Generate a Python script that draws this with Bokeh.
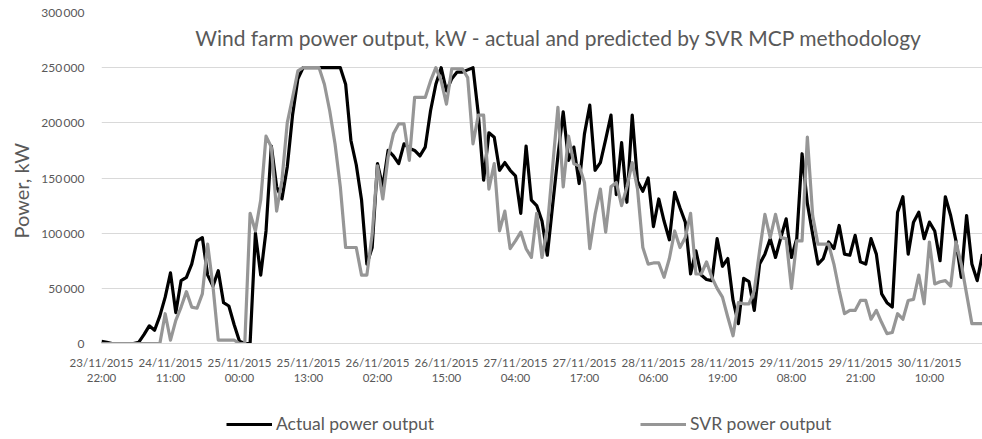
from bokeh.plotting import figure
from bokeh.layouts import column
from bokeh.models import FixedTicker, Legend, LegendItem, Label, Range1d, Title
from bokeh.embed import file_html
from bokeh.resources import INLINE

# ---- data (hourly, starting 23/11/2015 22:00) ----
actual_kw = [
    2000, 1000, 0, 0, 0, 0, 0, 1000, 8000, 16000,
    12000, 25000, 42000, 64000, 28000, 57000, 60000, 72000, 93000, 96000,
    62000, 52000, 66000, 37000, 34000, 17000, 2000, 0, 0, 100000,
    62000, 102000, 179000, 142000, 131000, 160000, 207000, 240000, 250000, 250000,
    250000, 250000, 250000, 250000, 250000, 250000, 235000, 184000, 162000, 130000,
    72000, 87000, 163000, 142000, 175000, 170000, 163000, 181000, 177000, 175000,
    170000, 178000, 211000, 235000, 250000, 229000, 240000, 246000, 246000, 248000,
    250000, 208000, 148000, 191000, 187000, 157000, 164000, 157000, 152000, 118000,
    179000, 130000, 125000, 111000, 80000, 125000, 170000, 210000, 166000, 178000,
    145000, 190000, 216000, 157000, 164000, 185000, 207000, 135000, 182000, 128000,
    207000, 147000, 138000, 150000, 106000, 131000, 111000, 94000, 137000, 123000,
    110000, 63000, 84000, 62000, 58000, 57000, 95000, 70000, 77000, 39000,
    18000, 59000, 56000, 30000, 72000, 81000, 95000, 78000, 96000, 113000,
    78000, 95000, 172000, 127000, 99000, 72000, 77000, 92000, 86000, 107000,
    81000, 80000, 98000, 74000, 72000, 95000, 81000, 45000, 37000, 33000,
    119000, 133000, 81000, 110000, 119000, 95000, 110000, 102000, 75000, 133000,
    116000, 93000, 60000, 116000, 72000, 57000, 81000,
]
svr_kw = [
    0, 0, 0, 0, 0, 0, 0, 0, 0, 0,
    0, 0, 27000, 3000, 21000, 33000, 47000, 33000, 32000, 45000,
    90000, 52000, 3000, 3000, 3000, 3000, 0, 0, 118000, 102000,
    130000, 188000, 178000, 120000, 148000, 200000, 223000, 247000, 250000, 250000,
    250000, 250000, 235000, 211000, 181000, 142000, 87000, 87000, 87000, 62000,
    62000, 99000, 161000, 131000, 169000, 190000, 199000, 199000, 166000, 223000,
    223000, 223000, 238000, 250000, 238000, 217000, 249000, 249000, 249000, 241000,
    181000, 207000, 207000, 140000, 163000, 102000, 120000, 86000, 93000, 101000,
    86000, 78000, 118000, 78000, 105000, 160000, 214000, 142000, 188000, 163000,
    161000, 146000, 86000, 117000, 140000, 101000, 142000, 146000, 125000, 142000,
    164000, 140000, 87000, 72000, 73000, 73000, 60000, 77000, 102000, 87000,
    96000, 118000, 63000, 63000, 74000, 60000, 50000, 42000, 24000, 7000,
    37000, 36000, 36000, 48000, 84000, 117000, 96000, 117000, 96000, 95000,
    50000, 93000, 93000, 187000, 116000, 90000, 90000, 90000, 72000, 48000,
    27000, 30000, 30000, 39000, 39000, 22000, 30000, 19000, 9000, 10000,
    27000, 22000, 39000, 40000, 62000, 36000, 92000, 54000, 56000, 57000,
    52000, 92000, 72000, 45000, 18000, 18000, 18000,
]
tick_dates = ["23/11/2015", "24/11/2015", "25/11/2015", "25/11/2015", "26/11/2015",
              "26/11/2015", "27/11/2015", "27/11/2015", "28/11/2015", "28/11/2015",
              "29/11/2015", "29/11/2015", "30/11/2015"]
tick_times = ["22:00", "11:00", "00:00", "13:00", "02:00", "15:00", "04:00",
              "17:00", "06:00", "19:00", "08:00", "21:00", "10:00"]
tick_step_hours = 13
y_ticks = [0, 50000, 100000, 150000, 200000, 250000, 300000]
series_names = ["Actual power output", "SVR power output"]

hours = list(range(len(actual_kw)))

FONT = "Lato"
TXT = "#595959"
BLACK = "black"
GREY = "#969696"

p = figure(width=982, height=409, output_backend="svg", toolbar_location=None,
           x_range=Range1d(0, len(hours) - 1), y_range=Range1d(0, 300000),
           min_border_left=98, min_border_right=0, min_border_top=12,
           min_border_bottom=66)
p.outline_line_color = None

p.line(hours, actual_kw, line_color=BLACK, line_width=3.2, line_join="round")
p.line(hours, svr_kw, line_color=GREY, line_width=3.2, line_join="round")

# x axis
xt = [i * tick_step_hours for i in range(len(tick_dates))]
p.xaxis.ticker = FixedTicker(ticks=xt)
p.xaxis.major_label_overrides = {t: f"{d}\n{h}" for t, d, h in zip(xt, tick_dates, tick_times)}
p.xaxis.major_tick_line_color = None
p.xaxis.minor_tick_line_color = None
p.xaxis.axis_line_color = "#d9d9d9"
p.xaxis.major_label_text_font = FONT
p.xaxis.major_label_text_font_size = "11.5px"
p.xaxis.major_label_text_color = TXT
p.xaxis.major_label_standoff = 6
p.xgrid.grid_line_color = None

# y axis
p.yaxis.ticker = FixedTicker(ticks=y_ticks)
p.yaxis.major_label_overrides = {t: f"{t:,}".replace(",", "\u2009") for t in y_ticks}
p.yaxis.major_tick_line_color = None
p.yaxis.minor_tick_line_color = None
p.yaxis.axis_line_color = None
p.yaxis.major_label_text_font = FONT
p.yaxis.major_label_text_font_size = "12px"
p.yaxis.major_label_text_color = TXT
p.yaxis.major_label_standoff = 11
p.ygrid.grid_line_color = "#d9d9d9"
p.ygrid.grid_line_width = 1

ytitle = Title(text="Power, kW", align="left", offset=105, text_font=FONT,
               text_font_size="20px", text_font_style="normal", text_color=TXT,
               standoff=12)
p.add_layout(ytitle, "left")

title = Label(x=86.2, y=277300,
              text="Wind farm power output, kW - actual and predicted by SVR MCP methodology",
              text_align="center", text_baseline="middle", text_font=FONT,
              text_font_size="21px", text_color=TXT)
p.add_layout(title)

# legend strip below the chart (its frame is aligned with the main frame)
pl = figure(width=982, height=30, output_backend="svg", toolbar_location=None,
            x_range=Range1d(0, 1), y_range=Range1d(0, 1),
            min_border_left=0, min_border_right=0, min_border_top=0,
            min_border_bottom=0)
pl.axis.visible = False
pl.grid.visible = False
pl.outline_line_color = None
# one-point lines: nothing is drawn on the canvas, but the legend shows their style
l1 = pl.line(hours[:1], actual_kw[:1], line_color=BLACK, line_width=3)
l2 = pl.line(hours[:1], svr_kw[:1], line_color=GREY, line_width=3)
legend = Legend(items=[LegendItem(label=series_names[0], renderers=[l1]),
                       LegendItem(label=series_names[1], renderers=[l2])],
                orientation="horizontal", location=(125, 5), spacing=206,
                glyph_width=46, glyph_height=20, label_standoff=4,
                label_text_font=FONT, label_text_font_size="17.5px",
                label_text_color=TXT, border_line_color=None,
                background_fill_alpha=0, padding=0, margin=0)
pl.add_layout(legend)

open("out.html", "w").write(file_html(column(p, pl, spacing=0), INLINE))
